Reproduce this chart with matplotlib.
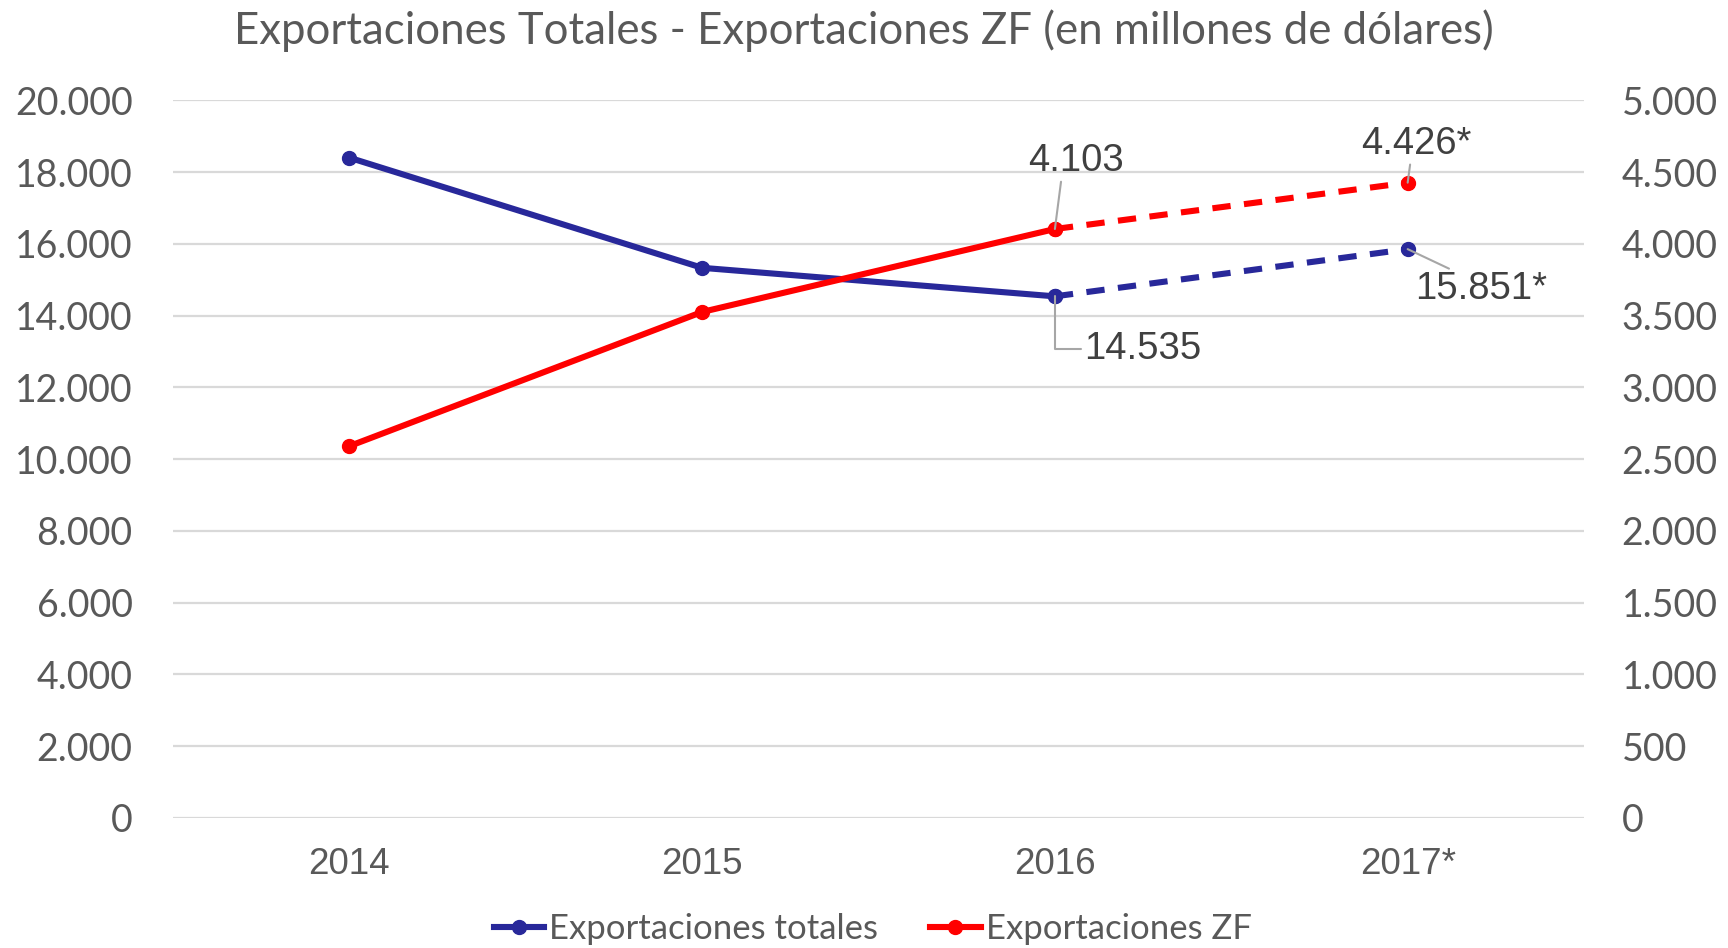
#!/usr/bin/env python3
"""Exportaciones totales vs exportaciones ZF, dual-axis line chart."""

import matplotlib

matplotlib.use("Agg")
import matplotlib.pyplot as plt
from matplotlib.lines import Line2D
from matplotlib.ticker import FuncFormatter, MultipleLocator

years = ["2014", "2015", "2016", "2017*"]
totales = [18400, 15330, 14535, 15851]
zf = [2590, 3525, 4103, 4426]

# labels shown on the chart
totales_labels = ["14.535", "15.851*"]
zf_labels = ["4.103", "4.426*"]

BLUE = "#28289A"
RED = "#FF0000"
TEXT = "#595959"
GRID = "#D9D9D9"


def miles(v, _pos=None):
    return f"{v:,.0f}".replace(",", ".")


fig = plt.figure(figsize=(17.28, 9.48), dpi=100)
ax = fig.add_axes([0.1001, 0.1374, 0.8166, 0.7568])
ax2 = ax.twinx()

x = list(range(len(years)))
lw = 4.4
ms = 10

# solid part (observed) and dashed part (estimate)
ax.plot(x[:3], totales[:3], color=BLUE, lw=lw, marker="o", ms=ms, zorder=3)
ax.plot(x[2:], totales[2:], color=BLUE, lw=lw, ls=(0, (3, 2.2)), marker="o", ms=ms, zorder=3)
ax2.plot(x[:3], zf[:3], color=RED, lw=lw, marker="o", ms=ms, zorder=3)
ax2.plot(x[2:], zf[2:], color=RED, lw=lw, ls=(0, (3, 2.2)), marker="o", ms=ms, zorder=3)

ax.set_xlim(-0.5, 3.5)
ax.set_ylim(0, 20000)
ax2.set_ylim(0, 5000)
ax.yaxis.set_major_locator(MultipleLocator(2000))
ax2.yaxis.set_major_locator(MultipleLocator(500))
ax.yaxis.set_major_formatter(FuncFormatter(miles))
ax2.yaxis.set_major_formatter(FuncFormatter(miles))
ax.set_xticks(x)
ax.set_xticklabels(years)

ax.grid(axis="y", color=GRID, lw=1.6, zorder=0)
ax.set_axisbelow(True)
for a in (ax, ax2):
    for s in a.spines.values():
        s.set_visible(False)

ax.tick_params(axis="y", length=0, pad=29, labelcolor=TEXT, labelsize=27)
ax2.tick_params(axis="y", length=0, pad=27, labelcolor=TEXT, labelsize=27)
ax.tick_params(axis="x", length=0, pad=21, labelcolor=TEXT, labelsize=26.5)
for lab in ax.get_yticklabels() + ax2.get_yticklabels():
    lab.set_family("Lato")
for lab in ax.get_xticklabels():
    lab.set_family("Liberation Sans")

label_kw = dict(fontsize=27.5, color="#404040", family="Liberation Sans",
                ha="center", va="center", zorder=5)
line_kw = dict(arrowstyle="-", color="#A6A6A6", lw=1.5, shrinkA=0, shrinkB=0)

ax2.annotate(zf_labels[0], (x[2], zf[2]), xytext=(15, 49),
             textcoords="offset points",
             arrowprops=dict(**line_kw, relpos=(0.35, 0)), **label_kw)
ax2.annotate(zf_labels[1], (x[3], zf[3]), xytext=(6, 28),
             textcoords="offset points",
             arrowprops=dict(**line_kw, relpos=(0.45, 0)), **label_kw)
ax.annotate(totales_labels[0], (x[2], totales[2]), xytext=(63, -38),
            textcoords="offset points",
            arrowprops=dict(**line_kw, relpos=(0, 0.5),
                            connectionstyle="angle,angleA=0,angleB=90,rad=0"),
            **label_kw)
ax.annotate(totales_labels[1], (x[3], totales[3]), xytext=(53, -29),
            textcoords="offset points",
            arrowprops=dict(**line_kw, relpos=(0.3, 1.0)), **label_kw)

fig.suptitle("Exportaciones Totales - Exportaciones ZF (en millones de dólares)",
             x=0.5, y=0.99, fontsize=31.5, color=TEXT, family="Lato")

handles = [
    Line2D([], [], color=BLUE, lw=lw, marker="o", ms=ms),
    Line2D([], [], color=RED, lw=lw, marker="o", ms=ms),
]
fig.legend(handles, ["Exportaciones totales", "Exportaciones ZF"],
           loc="lower center", bbox_to_anchor=(0.505, -0.03), ncol=2,
           frameon=False, handlelength=1.45, handletextpad=0.15, columnspacing=1.5,
           prop=dict(family="Lato", size=25), labelcolor=TEXT)

fig.savefig("out.png", dpi=100)
